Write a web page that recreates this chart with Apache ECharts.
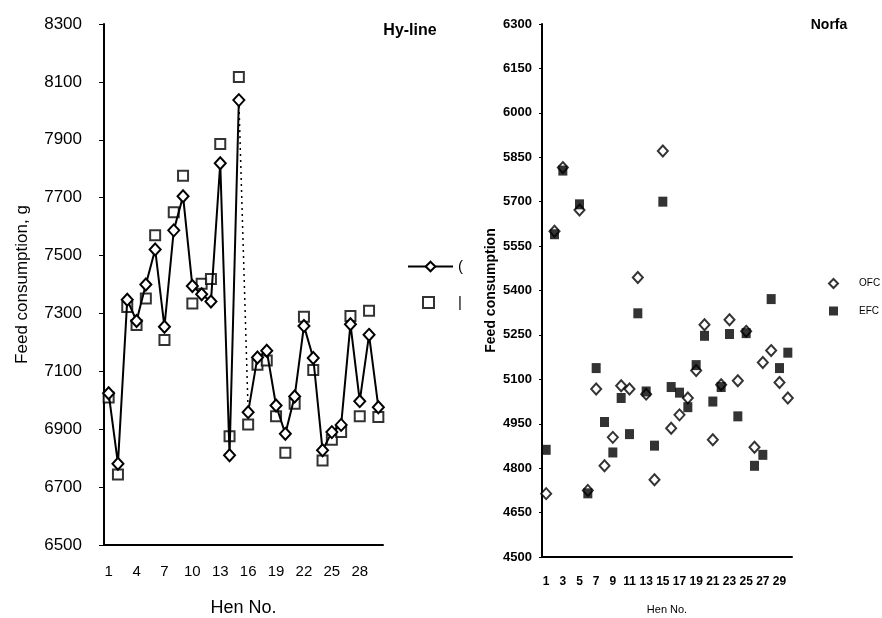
<!DOCTYPE html>
<html>
<head>
<meta charset="utf-8">
<script src="https://cdn.jsdelivr.net/npm/echarts@6/dist/echarts.min.js"></script>
<style>
  html, body { margin: 0; background: #fff; }
  #chart { width: 882px; height: 618px; }
</style>
</head>
<body>
<div id="chart"></div>
<script>
// hen numbers, shared by both panels
const hens = ["1", "2", "3", "4", "5", "6", "7", "8", "9", "10",
  "11", "12", "13", "14", "15", "16", "17", "18", "19", "20",
  "21", "22", "23", "24", "25", "26", "27", "28", "29", "30"];

// Hy-line panel (g)
const hylineOfc = [7024, 6781, 7347, 7274, 7400, 7521, 7254, 7587, 7705, 7395,
  7366, 7341, 7819, 6810, 8037, 6959, 7148, 7171, 6982, 6884,
  7013, 7257, 7146, 6827, 6890, 6915, 7263, 6997, 7226, 6976];
const hylineEfc = [7010, 6744, 7322, 7260, 7352, 7570, 7208, 7650, 7776, 7334,
  7403, 7419, 7885, 6876, 8117, 6916, 7123, 7137, 6945, 6819,
  6988, 7289, 7105, 6792, 6864, 6890, 7291, 6945, 7309, 6942];

// Norfa panel (g), hen 4 has no reading
const norfaOfc = [4714, 5600, 5815, null, 5672, 4725, 5067, 4808, 4904, 5078,
  5067, 5444, 5050, 4761, 5871, 4935, 4980, 5037, 5130, 5284,
  4896, 5082, 5301, 5095, 5262, 4871, 5157, 5197, 5089, 5037];
const norfaEfc = [4862, 5590, 5805, null, 5691, 4715, 5138, 4956, 4853, 5037,
  4915, 5323, 5059, 4876, 5700, 5074, 5055, 5006, 5148, 5247,
  5025, 5074, 5253, 4975, 5256, 4808, 4845, 5371, 5138, 5190];

const leftTicks = { min: 6500, max: 8300, step: 200 };
const rightTicks = { min: 4500, max: 6300, step: 150 };

const black = "#000";
const sans = "Liberation Sans, Arial, sans-serif";
const narrow = "Liberation Sans Narrow, Liberation Sans, Arial, sans-serif";
const plain = (v) => String(v); // no thousands separator

// the line breaks at hen 15 -> 16, that step is drawn dotted
const firstPart = hylineOfc.map((v, i) => (i < 15 ? v : null));
const secondPart = hylineOfc.map((v, i) => (i >= 15 ? v : null));
const joinPart = hylineOfc.map((v, i) => (i === 14 || i === 15 ? v : null));

const diamondLine = (data) => ({
  name: "OFC", type: "line", xAxisIndex: 0, yAxisIndex: 0, data: data,
  symbol: "diamond", symbolSize: [11, 12], showAllSymbol: true, z: 4,
  lineStyle: { color: black, width: 2 },
  itemStyle: { color: "#fff", borderColor: black, borderWidth: 2 },
});

const chart = echarts.init(document.getElementById("chart"));

const option = {
  animation: false,
  backgroundColor: "#fff",
  title: [
    { text: "Hy-line", left: 405, top: 18, textAlign: "center",
      textStyle: { fontFamily: sans, fontSize: 16, fontWeight: "bold", color: black } },
    { text: "Norfa", left: 824, top: 13, textAlign: "center",
      textStyle: { fontFamily: narrow, fontSize: 14, fontWeight: "bold", color: black } },
  ],
  legend: [
    { data: ["OFC"], left: 402, top: 254, itemWidth: 45, itemHeight: 12,
      formatter: () => "(",
      textStyle: { fontFamily: sans, fontSize: 15, color: black } },
    { data: ["EFC"], left: 417, top: 290, itemWidth: 11, itemHeight: 11,
      formatter: () => "|",
      textStyle: { fontFamily: sans, fontSize: 15, color: black, padding: [0, 0, 0, 19] } },
    { data: ["OFC ", "EFC "], orient: "vertical", left: 823, top: 273, itemGap: 17,
      itemWidth: 9, itemHeight: 9,
      formatter: (n) => n.trim(),
      textStyle: { fontFamily: narrow, fontSize: 10, color: black, padding: [0, 0, 0, 16] } },
  ],
  grid: [
    { left: 104, top: 24, width: 279, height: 521, outerBoundsMode: "none" },
    { left: 542, top: 24, width: 250, height: 533, outerBoundsMode: "none" },
  ],
  xAxis: [
    {
      gridIndex: 0, type: "category", data: hens,
      name: "Hen No.", nameLocation: "middle", nameGap: 54, nameMoveOverlap: false,
      nameTextStyle: { fontFamily: sans, fontSize: 18, color: black },
      axisLine: { lineStyle: { color: black, width: 2 } },
      axisTick: { interval: 0, length: 4, lineStyle: { color: black } },
      axisLabel: { interval: 2, margin: 19, fontFamily: sans, fontSize: 15, color: black },
    },
    {
      gridIndex: 1, type: "category", data: hens,
      name: "Hen No.", nameLocation: "middle", nameGap: 47, nameMoveOverlap: false,
      nameTextStyle: { fontFamily: narrow, fontSize: 11, color: black },
      axisLine: { lineStyle: { color: black, width: 2 } },
      axisTick: { interval: 0, length: 4, lineStyle: { color: black } },
      axisLabel: { interval: 1, margin: 19, fontFamily: narrow, fontSize: 12,
        fontWeight: "bold", color: black },
    },
  ],
  yAxis: [
    {
      gridIndex: 0, type: "value",
      min: leftTicks.min, max: leftTicks.max, interval: leftTicks.step,
      name: "Feed consumption, g", nameLocation: "middle", nameGap: 73, nameMoveOverlap: false,
      nameTextStyle: { fontFamily: sans, fontSize: 17, color: black },
      axisLine: { show: true, lineStyle: { color: black, width: 2 } },
      axisTick: { show: true, length: 5, lineStyle: { color: black } },
      splitLine: { show: false },
      axisLabel: { margin: 22, fontFamily: sans, fontSize: 17, color: black, formatter: plain },
    },
    {
      gridIndex: 1, type: "value",
      min: rightTicks.min, max: rightTicks.max, interval: rightTicks.step,
      name: "Feed consumption", nameLocation: "middle", nameGap: 44, nameMoveOverlap: false,
      nameTextStyle: { fontFamily: narrow, fontSize: 14, fontWeight: "bold", color: black },
      axisLine: { show: true, lineStyle: { color: black, width: 2 } },
      axisTick: { show: true, length: 3, lineStyle: { color: black } },
      splitLine: { show: false },
      axisLabel: { margin: 10, fontFamily: narrow, fontSize: 13, fontWeight: "bold",
        color: black, formatter: plain },
    },
  ],
  series: [
    diamondLine(firstPart),
    diamondLine(secondPart),
    {
      name: "OFC", type: "line", xAxisIndex: 0, yAxisIndex: 0, data: joinPart,
      showSymbol: false, z: 1,
      lineStyle: { color: black, width: 1.5, type: [2, 4] },
    },
    {
      name: "EFC", type: "scatter", xAxisIndex: 0, yAxisIndex: 0, data: hylineEfc,
      symbol: "rect", symbolSize: 10, z: 3,
      itemStyle: { color: "#fff", borderColor: black, borderWidth: 2 },
    },
    {
      name: "OFC ", type: "scatter", xAxisIndex: 1, yAxisIndex: 1, data: norfaOfc,
      symbol: "diamond", symbolSize: [10, 11], z: 3,
      itemStyle: { color: "#fff", borderColor: black, borderWidth: 2 },
    },
    {
      name: "EFC ", type: "scatter", xAxisIndex: 1, yAxisIndex: 1, data: norfaEfc,
      symbol: "rect", symbolSize: [9, 10], z: 4,
      itemStyle: { color: black },
    },
  ],
};

chart.setOption(option);
</script>
</body>
</html>
